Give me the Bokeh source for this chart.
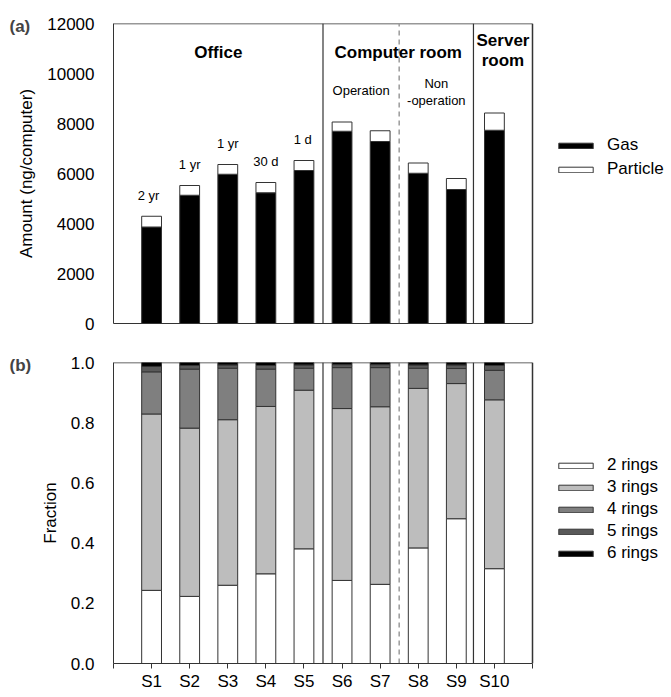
from bokeh.plotting import figure
from bokeh.layouts import column
from bokeh.models import (ColumnDataSource, Legend, LegendItem, Label,
                          FixedTicker, Range1d)
from bokeh.core.properties import value
from bokeh.embed import file_html
from bokeh.resources import INLINE

# ---------------- data ----------------
samples = ["S1", "S2", "S3", "S4", "S5", "S6", "S7", "S8", "S9", "S10"]
positions = [1, 2, 3, 4, 5, 6, 7, 8, 9, 10]
gas = [3860, 5130, 5970, 5230, 6120, 7690, 7280, 6010, 5360, 7730]
particle = [430, 390, 390, 410, 400, 370, 430, 410, 440, 690]
age_labels = ["2 yr", "1 yr", "1 yr", "30 d", "1 d"]
ring2 = [0.243, 0.223, 0.260, 0.298, 0.381, 0.276, 0.263, 0.384, 0.481, 0.315]
ring3 = [0.586, 0.559, 0.550, 0.556, 0.527, 0.571, 0.590, 0.530, 0.449, 0.561]
ring4 = [0.140, 0.196, 0.171, 0.124, 0.073, 0.136, 0.130, 0.067, 0.050, 0.098]
ring5 = [0.018, 0.012, 0.011, 0.012, 0.011, 0.010, 0.010, 0.011, 0.012, 0.016]
ring6 = [0.013, 0.010, 0.008, 0.010, 0.008, 0.007, 0.007, 0.008, 0.008, 0.010]
ring_names = ["2 rings", "3 rings", "4 rings", "5 rings", "6 rings"]
ring_colors = ["#ffffff", "#bdbdbd", "#7f7f7f", "#595959", "#000000"]
group_bounds = [0, 5.5, 9.45, 11]
group_names = ["Office", "Computer room", "Server"]
op_bound = 7.5
y_ticks_a = [0, 2000, 4000, 6000, 8000, 10000, 12000]
y_ticks_b = [0.0, 0.2, 0.4, 0.6, 0.8, 1.0]
x_min, x_max = 0, 11
y_max_a, y_max_b = 12000, 1.0

FONT = "Liberation Sans"
EDGE = "#333333"

# layout: axes box is 419 px wide; the canvas continues to the right for the legend
W, LEFT, BOX_W = 671, 113, 419
x_view_end = x_max * (W - LEFT) / BOX_W

src = ColumnDataSource(dict(x=positions, gas=gas, particle=particle,
                            r2=ring2, r3=ring3, r4=ring4, r5=ring5, r6=ring6,
                            total=[g + q for g, q in zip(gas, particle)]))


def style(p, ytop):
    p.toolbar_location = None
    p.grid.visible = False
    p.outline_line_color = None
    p.background_fill_color = "white"
    p.border_fill_color = "white"
    for ax in (p.xaxis[0], p.yaxis[0]):
        ax.axis_line_color = EDGE
        ax.major_label_text_font = FONT
        ax.major_label_text_font_size = "17px"
        ax.major_label_text_color = "black"
        ax.axis_label_text_font = FONT
        ax.axis_label_text_font_size = "17px"
        ax.axis_label_text_font_style = "normal"
        ax.axis_label_text_color = "black"
        ax.minor_tick_line_color = None
    p.xaxis[0].bounds = (x_min, x_max)
    p.yaxis[0].major_tick_line_color = None
    p.yaxis[0].major_label_standoff = 13
    p.yaxis[0].axis_label_standoff = 8
    # box: top and right edges
    p.segment(x0=[x_min, x_max], y0=[ytop, 0], x1=[x_max, x_max], y1=[ytop, ytop],
              line_color=EDGE, line_width=1.5)


def panel_label(p, txt):
    p.add_layout(Label(x=-104, y=-3, x_units="screen", y_units="screen", text=txt,
                       text_font=FONT, text_font_size="17px", text_font_style="bold",
                       text_align="left", text_baseline="middle"), "above")


def separators(p, ytop):
    p.segment(x0=group_bounds[1:-1], y0=[0, 0], x1=group_bounds[1:-1], y1=[ytop, ytop],
              line_color=EDGE, line_width=1.2)
    p.segment(x0=[op_bound], y0=[0], x1=[op_bound], y1=[ytop],
              line_color="#9a9a9a", line_width=1.5, line_dash="5 4")


# ---------------- panel (a) ----------------
pa = figure(width=W, height=340, output_backend="svg", toolbar_location=None,
            x_range=Range1d(x_min, x_view_end), y_range=Range1d(0, y_max_a),
            min_border_left=LEFT, min_border_right=0, min_border_top=23,
            min_border_bottom=17)
style(pa, y_max_a)
pa.yaxis[0].ticker = FixedTicker(ticks=y_ticks_a)
pa.yaxis[0].axis_label = "Amount (ng/computer)"
pa.xaxis[0].major_tick_line_color = None
pa.xaxis[0].major_label_text_font_size = "0px"
pa.xaxis[0].ticker = FixedTicker(ticks=[])

ra = pa.vbar_stack(["gas", "particle"], x="x", width=0.52, source=src,
                   fill_color=["#000000", "#ffffff"], line_color=EDGE, line_width=1)
separators(pa, y_max_a)

centers = [(group_bounds[i] + group_bounds[i + 1]) / 2 for i in range(3)]
pa.text(x=centers[:2], y=[10850, 10850], text=group_names[:2],
        text_font=value(FONT), text_font_size="17px", text_font_style="bold",
        text_align="center", text_baseline="middle")
pa.text(x=[centers[2], centers[2]], y=[11330, 10530], text=["Server", "room"],
        text_font=value(FONT), text_font_size="17px", text_font_style="bold",
        text_align="center", text_baseline="middle")
sub_x = [(group_bounds[1] + op_bound) / 2, (op_bound + group_bounds[2]) / 2,
         (op_bound + group_bounds[2]) / 2]
pa.text(x=sub_x, y=[9320, 9620, 8930], text=["Operation", "Non", "-operation"],
        text_font=value(FONT), text_font_size="13px",
        text_align="center", text_baseline="middle")
pa.text(x=[0.92, 2.0, 3.0, 4.0, 4.97],
        y=[t + 850 for t in src.data["total"][:5]],
        text=age_labels, text_font=value(FONT), text_font_size="13px",
        text_align="center", text_baseline="middle")

panel_label(pa, "(a)")

leg_a = Legend(items=[LegendItem(label="Gas", renderers=[ra[0]]),
                      LegendItem(label="Particle", renderers=[ra[1]])],
               location=(441, 144), glyph_width=43, glyph_height=7,
               label_height=20, spacing=4, padding=0, margin=0,
               label_standoff=10, border_line_color=None,
               background_fill_alpha=0, label_text_font=FONT,
               label_text_font_size="17px", label_text_color="black")
pa.add_layout(leg_a)

# ---------------- panel (b) ----------------
pb = figure(width=W, height=357, output_backend="svg", toolbar_location=None,
            x_range=Range1d(x_min, x_view_end), y_range=Range1d(0, y_max_b),
            min_border_left=LEFT, min_border_right=0, min_border_top=22,
            min_border_bottom=34)
style(pb, y_max_b)
pb.yaxis[0].ticker = FixedTicker(ticks=y_ticks_b)
pb.yaxis[0].major_label_overrides = {t: f"{t:.1f}" for t in y_ticks_b}
pb.yaxis[0].axis_label = "Fraction"
pb.xaxis[0].ticker = FixedTicker(ticks=[x_min] + positions + [x_max])
overrides = {p: s for p, s in zip(positions, samples)}
overrides[x_min] = ""
overrides[x_max] = ""
pb.xaxis[0].major_label_overrides = overrides
pb.xaxis[0].major_tick_line_color = EDGE
pb.xaxis[0].major_tick_in = 0
pb.xaxis[0].major_tick_out = 5
pb.xaxis[0].major_label_standoff = 3

rb = pb.vbar_stack(["r2", "r3", "r4", "r5", "r6"], x="x", width=0.52, source=src,
                   fill_color=ring_colors, line_color=EDGE, line_width=1)
separators(pb, y_max_b)

panel_label(pb, "(b)")

leg_b = Legend(items=[LegendItem(label=n, renderers=[r]) for n, r in zip(ring_names, rb)],
               location=(441, 100), glyph_width=43, glyph_height=7,
               label_height=20, spacing=2, padding=0, margin=0,
               label_standoff=10, border_line_color=None,
               background_fill_alpha=0, label_text_font=FONT,
               label_text_font_size="17px", label_text_color="black")
pb.add_layout(leg_b)

layout = column(pa, pb, spacing=0)
open("out.html", "w").write(file_html(layout, INLINE))
